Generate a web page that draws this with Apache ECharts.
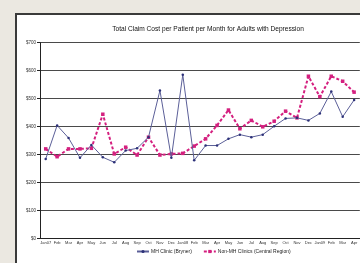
<!DOCTYPE html>
<html>
<head>
<meta charset="utf-8">
<script src="https://cdn.jsdelivr.net/npm/echarts@6/dist/echarts.min.js"></script>
<style>
  html, body { margin: 0; padding: 0; background: #ebe8e1; }
  .frame {
    position: absolute; left: 15px; top: 13px; width: 360px; height: 260px;
    background: #fff; border-left: 2px solid #3a3a3a; border-top: 2px solid #3a3a3a;
  }
  #chart { position: absolute; left: 0; top: 0; width: 360px; height: 263px; }
</style>
</head>
<body>
<div class="frame"></div>
<div id="chart"></div>
<script>
// months on the x axis (the last one is cut off by the right edge)
var months = ['Jan07', 'Feb', 'Mar', 'Apr', 'May', 'Jun', 'Jul', 'Aug', 'Sep', 'Oct', 'Nov', 'Dec',
  'Jan08', 'Feb', 'Mar', 'Apr', 'May', 'Jun', 'Jul', 'Aug', 'Sep', 'Oct', 'Nov', 'Dec',
  'Jan09', 'Feb', 'Mar', 'Apr'];

// cost per patient per month, dollars
var mhClinic = [284, 404, 359, 288, 334, 290, 272, 314, 322, 362, 529, 288, 585, 279,
  332, 332, 356, 371, 362, 371, 401, 429, 431, 422, 447, 525, 435, 495];
var nonMhClinics = [320, 292, 320, 320, 322, 444, 302, 326, 298, 362, 298, 302, 304, 330,
  356, 404, 459, 392, 422, 399, 419, 455, 431, 580, 507, 580, 562, 523];

var yTicks = [0, 100, 200, 300, 400, 500, 600, 700];

var myChart = echarts.init(document.getElementById('chart'));
var option = {
  animation: false,
  backgroundColor: 'transparent',
  textStyle: { fontFamily: 'Liberation Sans' },
  title: {
    text: 'Total Claim Cost per Patient per Month for Adults with Depression',
    left: 203, top: 21, textAlign: 'center',
    textStyle: { fontSize: 6.6, fontWeight: 'normal', color: '#111' }
  },
  grid: { left: 40, right: -12, top: 42.7, bottom: 24.7 },
  legend: {
    bottom: 4, left: 131,
    itemWidth: 12, itemHeight: 4, itemGap: 11,
    textStyle: { fontSize: 5, color: '#222', padding: [0, 0, 0, -3] },
    data: ['MH Clinic (Bryner)', 'Non-MH Clinics (Central Region)']
  },
  xAxis: {
    type: 'category',
    data: months,
    axisLine: { lineStyle: { color: '#222', width: 1 } },
    axisTick: { show: false },
    axisLabel: { fontSize: 4, color: '#333', interval: 0, margin: 3 }
  },
  yAxis: {
    type: 'value',
    min: yTicks[0], max: yTicks[yTicks.length - 1], interval: 100,
    axisLine: { show: true, lineStyle: { color: '#222', width: 1 } },
    axisTick: { show: true, length: 3, lineStyle: { color: '#222' } },
    axisLabel: { fontSize: 4.5, color: '#333', margin: 4, formatter: '${value}' },
    splitLine: { lineStyle: { color: '#4a4a4a', width: 1 } }
  },
  series: [
    {
      name: 'MH Clinic (Bryner)',
      type: 'line',
      data: mhClinic,
      symbol: 'circle', symbolSize: 2.5,
      lineStyle: { color: '#5b5f98', width: 1 },
      itemStyle: { color: '#2c3078' },
      z: 3
    },
    {
      name: 'Non-MH Clinics (Central Region)',
      type: 'line',
      data: nonMhClinics,
      symbol: 'rect', symbolSize: 3.5,
      lineStyle: { color: '#d4207f', width: 2, type: [3, 2] },
      itemStyle: { color: '#d4207f' },
      z: 2
    }
  ]
};
myChart.setOption(option);
</script>
</body>
</html>
